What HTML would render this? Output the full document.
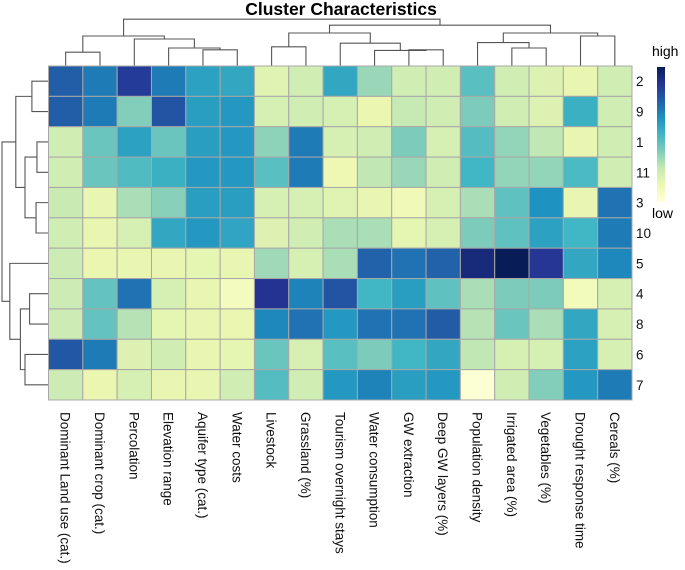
<!DOCTYPE html>
<html><head><meta charset="utf-8"><style>
body{margin:0;background:#fff;}
svg{display:block;font-family:"Liberation Sans",Arial,sans-serif;}
</style></head><body>
<svg id="chart" width="685" height="570" viewBox="0 0 685 570">
<text x="341" y="15" text-anchor="middle" font-size="17.5" font-weight="bold">Cluster Characteristics</text>
<g id="dendro" stroke="#555" stroke-width="1.1" fill="none"></g>
<g id="cells"></g>
<g id="labels" font-size="13.5" fill="#111"></g>
<defs><linearGradient id="cbg" x1="0" y1="1" x2="0" y2="0">
<stop offset="0" stop-color="#ffffd9"/><stop offset="0.125" stop-color="#edf8b1"/><stop offset="0.25" stop-color="#c7e9b4"/><stop offset="0.375" stop-color="#7fcdbb"/><stop offset="0.5" stop-color="#41b6c4"/><stop offset="0.625" stop-color="#1d91c0"/><stop offset="0.75" stop-color="#225ea8"/><stop offset="0.875" stop-color="#253494"/><stop offset="1" stop-color="#081d58"/>
</linearGradient></defs>
<rect x="657" y="67" width="8" height="135" fill="url(#cbg)"/>
<text x="652" y="56" font-size="14">high</text>
<text x="652" y="218" font-size="14">low</text>
</svg>
<script>
const columns=["Dominant Land use (cat.)","Dominant crop (cat.)","Percolation","Elevation range","Aquifer type (cat.)","Water costs","Livestock","Grassland (%)","Tourism overnight stays","Water consumption","GW extraction","Deep GW layers (%)","Population density","Irrigated area (%)","Vegetables (%)","Drought response time","Cereals (%)"];
const rows=["2","9","1","11","3","10","5","4","8","6","7"];
const values=[
[.75,.68,.85,.68,.57,.55,.17,.22,.55,.33,.22,.22,.45,.22,.18,.14,.22],
[.75,.68,.37,.78,.58,.6,.2,.22,.2,.13,.25,.22,.38,.22,.18,.52,.22],
[.22,.42,.57,.42,.58,.6,.35,.68,.2,.22,.38,.2,.46,.34,.26,.14,.22],
[.22,.42,.47,.52,.6,.6,.45,.68,.12,.26,.33,.22,.5,.34,.34,.48,.22],
[.24,.14,.3,.36,.58,.58,.2,.2,.17,.14,.1,.2,.3,.44,.62,.14,.7],
[.22,.14,.2,.55,.6,.56,.18,.22,.3,.3,.15,.2,.38,.44,.57,.5,.68],
[.23,.13,.14,.14,.15,.14,.32,.2,.3,.74,.7,.74,.93,1.0,.87,.55,.65],
[.23,.43,.7,.2,.14,.08,.88,.66,.78,.5,.58,.44,.3,.38,.38,.09,.2],
[.23,.43,.28,.15,.14,.13,.65,.7,.6,.7,.7,.76,.28,.42,.3,.55,.2],
[.77,.68,.18,.22,.14,.15,.42,.2,.45,.38,.5,.55,.26,.2,.2,.57,.2],
[.23,.13,.2,.14,.14,.22,.46,.22,.6,.66,.58,.6,.02,.22,.37,.6,.68]];
const colMerges=[[4,5,.27],[0,1,.23],[3,-1,.3],[2,-3,.45],[-2,-4,.5],[6,7,.32],[10,11,.27],[9,-7,.26],[8,-8,.38],[-6,-9,.55],[13,14,.3],[12,-11,.39],[15,16,.5],[-12,-13,.55],[-10,-14,.68],[-5,-15,.78]];
const rowMerges=[[0,1,.35],[2,3,.24],[4,5,.26],[-2,-3,.5],[-1,-4,.7],[7,8,.4],[9,10,.5],[-6,-7,.6],[6,-8,.83],[-5,-9,1.0]];

const NS="http://www.w3.org/2000/svg";
const x0=48.5,x1=632,y0=66,y1=400;
const cw=(x1-x0)/columns.length, rh=(y1-y0)/rows.length;
const xc=i=>x0+cw*(i+.5), yc=j=>y0+rh*(j+.5);
const stops=["#ffffd9","#edf8b1","#c7e9b4","#7fcdbb","#41b6c4","#1d91c0","#225ea8","#253494","#081d58"];
function hex(h){return [1,3,5].map(k=>parseInt(h.substr(k,2),16));}
function color(v){v=Math.max(0,Math.min(1,v));const t=v*8,i=Math.min(7,Math.floor(t)),f=t-i;const a=hex(stops[i]),b=hex(stops[i+1]);return "rgb("+a.map((c,k)=>Math.round(c+(b[k]-c)*f)).join(",")+")";}
const cells=document.getElementById("cells");
values.forEach((row,j)=>row.forEach((v,i)=>{
 const r=document.createElementNS(NS,"rect");
 r.setAttribute("x",x0+cw*i);r.setAttribute("y",y0+rh*j);r.setAttribute("width",cw);r.setAttribute("height",rh);
 r.setAttribute("fill",color(v));r.setAttribute("stroke","#a8a8a8");r.setAttribute("stroke-width","1");
 
 
 cells.appendChild(r);
}));
const lab=document.getElementById("labels");
rows.forEach((n,j)=>{
 const t=document.createElementNS(NS,"text");
 t.setAttribute("x",636);t.setAttribute("y",yc(j)+5);t.textContent=n;
 
 
 lab.appendChild(t);
});
columns.forEach((n,i)=>{
 const t=document.createElementNS(NS,"text");
 t.setAttribute("transform","translate("+(xc(i)-5)+",412) rotate(90)");t.textContent=n;
 
 
 lab.appendChild(t);
});
const dg=document.getElementById("dendro");
function line(pts){const p=document.createElementNS(NS,"polyline");p.setAttribute("points",pts.map(q=>q.join(",")).join(" "));
 
 
 dg.appendChild(p);}
function dendro(merges,leafPos,horizontal,base,span){
 const nodes=[];
 const get=k=>k>=0?{p:leafPos(k),h:0}:nodes[-k-1];
 const toPix=h=>base-h*span;
 merges.forEach(([a,b,h])=>{
  const A=get(a),B=get(b);
  if(horizontal) line([[A.p,toPix(A.h)],[A.p,toPix(h)],[B.p,toPix(h)],[B.p,toPix(B.h)]]);
  else line([[toPix(A.h),A.p],[toPix(h),A.p],[toPix(h),B.p],[toPix(B.h),B.p]]);
  nodes.push({p:(A.p+B.p)/2,h:h});
 });
}
dendro(colMerges,xc,true,66,60);
dendro(rowMerges,yc,false,48,46);
</script>
</body></html>
